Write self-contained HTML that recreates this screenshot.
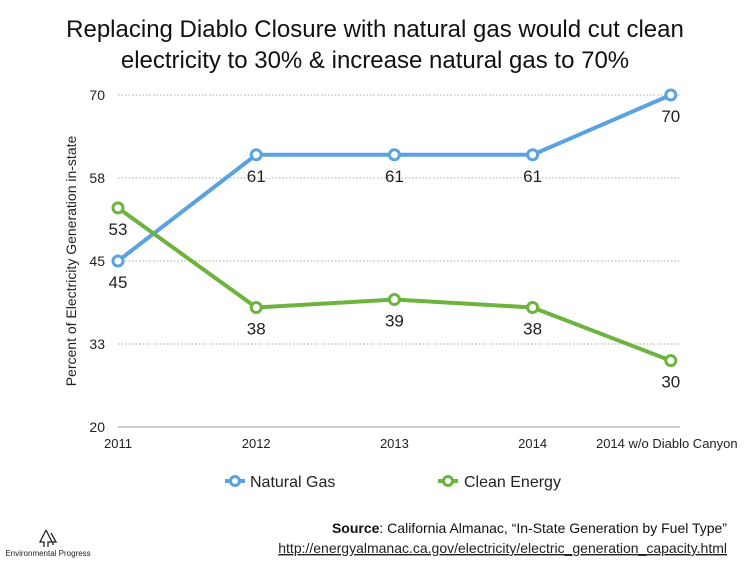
<!DOCTYPE html>
<html><head><meta charset="utf-8"><style>
body{margin:0;background:#fff;width:750px;height:563px;overflow:hidden;font-family:"Liberation Sans",sans-serif}
</style></head><body>
<svg id="chart" width="750" height="563" xmlns="http://www.w3.org/2000/svg" font-family="Liberation Sans, sans-serif">
<text x="375" y="37" text-anchor="middle" font-size="24" fill="#111">Replacing Diablo Closure with natural gas would cut clean</text>
<text x="375" y="68" text-anchor="middle" font-size="24" fill="#111">electricity to 30% &amp; increase natural gas to 70%</text>
<text transform="translate(76,261) rotate(-90)" text-anchor="middle" font-size="14" fill="#222">Percent of Electricity Generation in-state</text>
<g id="grid"></g><g id="marks"></g>
<g>
<g><line x1="225" y1="481" x2="245" y2="481" stroke="#5aa3e0" stroke-width="4"/><circle cx="235" cy="481" r="4.5" fill="#fff" stroke="#5aa3e0" stroke-width="3"/><text x="250" y="487" font-size="16" fill="#222">Natural Gas</text></g>
<g><line x1="438" y1="481" x2="458" y2="481" stroke="#6cb33f" stroke-width="4"/><circle cx="448" cy="481" r="4.5" fill="#fff" stroke="#6cb33f" stroke-width="3"/><text x="464" y="487" font-size="16" fill="#222">Clean Energy</text></g>
</g>
<g><path d="M46 530 L40 542 L44 542 L44 547 M46 530 L52 542 L48 542 L48 547 M51 533 L56 542 L53 542 L53 545" fill="none" stroke="#222" stroke-width="1.3"/><text x="48" y="556" text-anchor="middle" font-size="8" fill="#222">Environmental Progress</text></g>
<text x="727" y="533" text-anchor="end" font-size="14" fill="#111"><tspan font-weight="bold">Source</tspan>: California Almanac, “In-State Generation by Fuel Type”</text>
<text x="727" y="553" text-anchor="end" font-size="14" fill="#222" text-decoration="underline">http://energyalmanac.ca.gov/electricity/electric_generation_capacity.html</text>
</svg>
<script>
const categories=["2011","2012","2013","2014","2014 w/o Diablo Canyon"];
const naturalGas=[45,61,61,61,70];
const cleanEnergy=[53,38,39.2,38,30];
const gasLabels=["45","61","61","61","70"];
const cleanLabels=["53","38","39","38","30"];
const yTicks=[20,33,45,58,70];
const yTickVals=[20,32.5,45,57.5,70];
const NS="http://www.w3.org/2000/svg";
const x=i=>118+i*138.2;
const y=v=>427-(v-20)*6.64;
function mk(tag,attrs,parent){const e=document.createElementNS(NS,tag);for(const k in attrs)e.setAttribute(k,attrs[k]);parent.appendChild(e);return e;}
const grid=document.getElementById('grid'),marks=document.getElementById('marks');
yTickVals.forEach((v,i)=>{
 const l=mk('line',{x1:118,x2:680,y1:y(v),y2:y(v),stroke:i==0?'#999':'#aaa','stroke-width':1,'stroke-dasharray':i==0?'':'1.5,2'},grid);
 
 
 const t=mk('text',{x:105,y:y(v)+5,'text-anchor':'end','font-size':14,fill:'#222'},grid);t.textContent=yTicks[i];
 
 
});
categories.forEach((c,i)=>{
 const t=mk('text',{x:i==4?x(i)-4:x(i),y:448,'text-anchor':'middle','font-size':13,fill:'#222'},grid);t.textContent=c;
 
 
});
function series(vals,labels,color,name,below){
 const p=mk('polyline',{points:vals.map((v,i)=>x(i)+','+y(v)).join(' '),fill:'none',stroke:color,'stroke-width':4,'stroke-linejoin':'round'},marks);
 
 
 vals.forEach((v,i)=>{
  const c=mk('circle',{cx:x(i),cy:y(v),r:5,fill:'#fff',stroke:color,'stroke-width':3},marks);
  
  
  const t=mk('text',{x:x(i),y:y(v)+(below[i]?27:-10),'text-anchor':'middle','font-size':17,fill:'#222'},marks);t.textContent=labels[i];
  
  
 });
}
series(naturalGas,gasLabels,'#5aa3e0','natural-gas',[1,1,1,1,1]);
series(cleanEnergy,cleanLabels,'#6cb33f','clean-energy',[1,1,1,1,1]);
</script>
</body></html>
